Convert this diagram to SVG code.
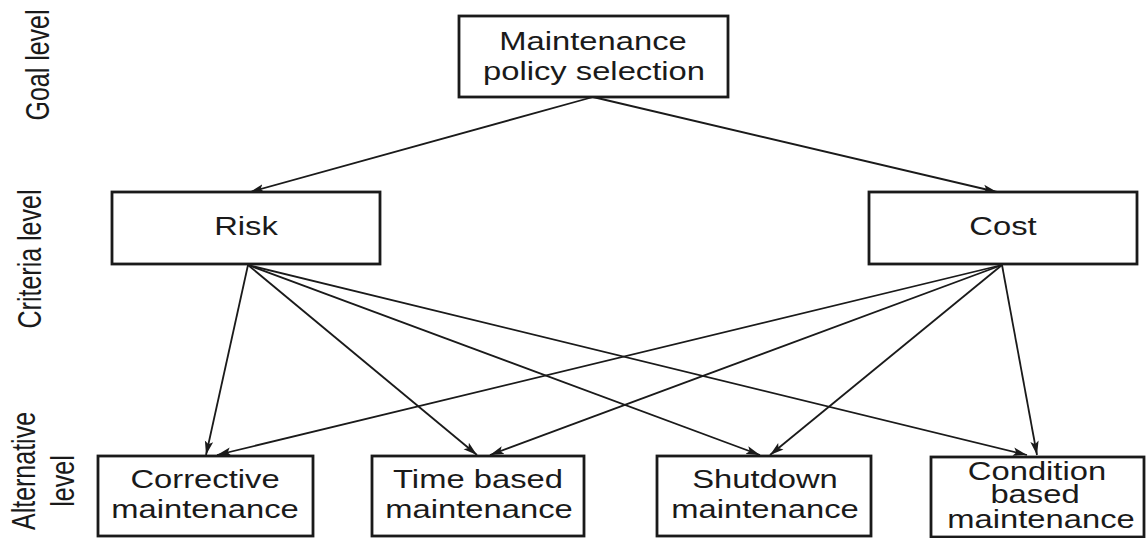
<svg xmlns="http://www.w3.org/2000/svg" width="1146" height="538" viewBox="0 0 1146 538">
  <style>
    .box { fill: #ffffff; stroke: #1a1a1a; stroke-width: 2.8; }
    .lbl { font-family: "Liberation Sans", Arial, sans-serif; font-size: 25px; fill: #1a1a1a; text-anchor: middle; }
    .edge { stroke: #1a1a1a; stroke-width: 1.8; fill: none; marker-end: url(#arrow); }
  </style>
  <defs>
    <marker id="arrow" viewBox="0 0 14 10" refX="14" refY="5" markerWidth="14" markerHeight="10" markerUnits="userSpaceOnUse" orient="auto">
      <path d="M0,0.8 L14,5 L0,9.2 L3,5 Z" fill="#1a1a1a"/>
    </marker>
  </defs>

  <!-- level captions -->
  <g id="level-labels">
    <text class="lbl" transform="translate(49,65) scale(1.3,1) rotate(-90)">Goal level</text>
    <text class="lbl" transform="translate(41,259) scale(1.3,1) rotate(-90)">Criteria level</text>
    <text class="lbl" transform="translate(35,471) scale(1.3,1) rotate(-90)">Alternative</text>
    <text class="lbl" transform="translate(74,481) scale(1.3,1) rotate(-90)">level</text>
  </g>

  <!-- connectors -->
  <g id="connectors">
    <line class="edge" x1="593" y1="97" x2="250" y2="192"/>
    <line class="edge" x1="593" y1="97" x2="997" y2="192"/>
    <line class="edge" x1="248" y1="265" x2="206" y2="455"/>
    <line class="edge" x1="248" y1="265" x2="477" y2="455"/>
    <line class="edge" x1="248" y1="265" x2="760" y2="455"/>
    <line class="edge" x1="248" y1="265" x2="1027" y2="455"/>
    <line class="edge" x1="1002" y1="265" x2="217" y2="455"/>
    <line class="edge" x1="1002" y1="265" x2="490" y2="455"/>
    <line class="edge" x1="1002" y1="265" x2="770" y2="455"/>
    <line class="edge" x1="1002" y1="265" x2="1037" y2="455"/>
  </g>

  <g id="goal">
    <rect class="box" x="459" y="16" width="269" height="81"/>
    <text class="lbl" transform="translate(593,50) scale(1.31,1)">Maintenance</text>
    <text class="lbl" transform="translate(594,80) scale(1.31,1)">policy selection</text>
  </g>

  <g id="risk">
    <rect class="box" x="112" y="192" width="268" height="72"/>
    <text class="lbl" transform="translate(246,235) scale(1.31,1)">Risk</text>
  </g>

  <g id="cost">
    <rect class="box" x="869" y="192" width="268" height="72"/>
    <text class="lbl" transform="translate(1003,235) scale(1.31,1)">Cost</text>
  </g>

  <g id="corrective">
    <rect class="box" x="98" y="456" width="215" height="80"/>
    <text class="lbl" transform="translate(205,488) scale(1.31,1)">Corrective</text>
    <text class="lbl" transform="translate(205,518) scale(1.31,1)">maintenance</text>
  </g>

  <g id="time-based">
    <rect class="box" x="372" y="456" width="212" height="80"/>
    <text class="lbl" transform="translate(478,488) scale(1.31,1)">Time based</text>
    <text class="lbl" transform="translate(479,518) scale(1.31,1)">maintenance</text>
  </g>

  <g id="shutdown">
    <rect class="box" x="657" y="456" width="214" height="80"/>
    <text class="lbl" transform="translate(765,488) scale(1.31,1)">Shutdown</text>
    <text class="lbl" transform="translate(765,518) scale(1.31,1)">maintenance</text>
  </g>

  <g id="condition-based">
    <rect class="box" x="931" y="457" width="213" height="80"/>
    <text class="lbl" transform="translate(1037,480) scale(1.31,1)">Condition</text>
    <text class="lbl" transform="translate(1035,503) scale(1.31,1)">based</text>
    <text class="lbl" transform="translate(1041,528) scale(1.31,1)">maintenance</text>
  </g>
</svg>
